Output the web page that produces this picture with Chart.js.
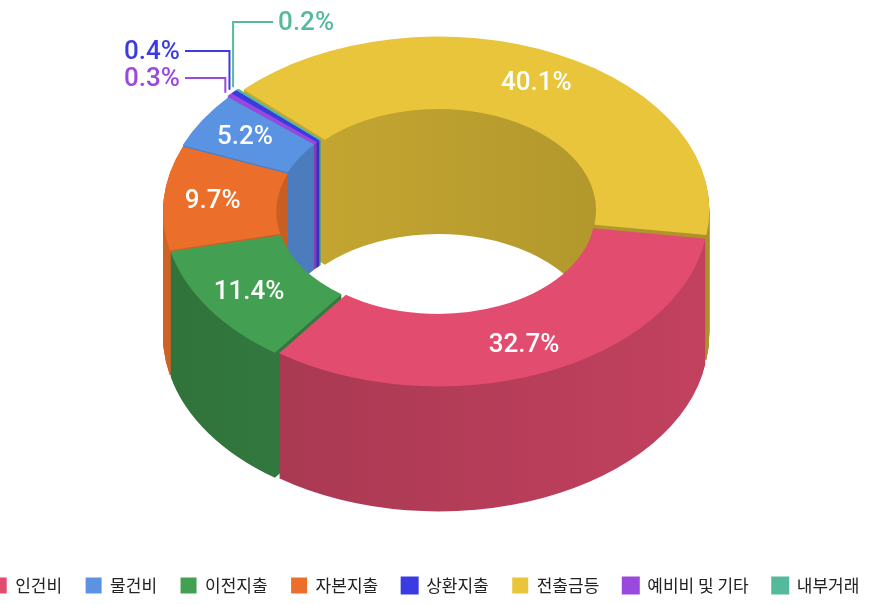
<!DOCTYPE html>
<html>
<head>
<meta charset="utf-8">
<script src="https://cdn.jsdelivr.net/npm/chart.js@4"></script>
<style>
  html, body { margin: 0; background: #fff; }
  #wrap { width: 874px; height: 604px; }
</style>
</head>
<body>
<div id="wrap"><canvas id="budgetCanvas"></canvas></div>
<script>
const categories = ['인건비', '물건비', '이전지출', '자본지출', '상환지출', '전출금등', '예비비 및 기타', '내부거래']
const shares = [32.7, 5.2, 11.4, 9.7, 0.4, 40.1, 0.3, 0.2]
const colors = ['#e24c6e', '#5a93e1', '#43a052', '#eb6f2a', '#3a3be2', '#e8c53a', '#9a48dd', '#55b99b']

// order of the slices round the ring, clockwise from the upper left
const ringOrder = [5, 0, 2, 3, 1, 6, 4, 7]

// thin slices get a label outside with an elbow line
const callouts = {
  4: {y: 51, side: 'left'},
  6: {y: 78, side: 'left'},
  7: {y: 22, side: 'right'},
}

const TILT = 0.64    // squash of the ring
const DEPTH = 125    // thickness in px
const LIFT = 65      // top face sits this far above the chart's centre
const CALLOUT_X = 180
// the legend row is a bit wider than the canvas and spills over both edges
const LEGEND_LEFT = -42
const LEGEND_RIGHT = 892

function shade(hex, f) {
  const n = parseInt(hex.slice(1), 16)
  const r = Math.round(((n >> 16) & 255) * f)
  const g = Math.round(((n >> 8) & 255) * f)
  const b = Math.round((n & 255) * f)
  return `rgb(${r},${g},${b})`
}

const midAngle = (arc) => (arc.startAngle + arc.endAngle) / 2

const ring3d = {
  id: 'ring3d',
  beforeDatasetsDraw(chart) {
    const ctx = chart.ctx
    const arcs = chart.getDatasetMeta(0).data
    const cx = arcs[0].x
    const cy = arcs[0].y
    const R = arcs[0].outerRadius

    // back slices first, front ones last
    const order = arcs.map((a, i) => i).sort((a, b) => Math.sin(midAngle(arcs[a])) - Math.sin(midAngle(arcs[b])))

    order.forEach(i => {
      const arc = arcs[i]
      const base = arc.options.backgroundColor
      const front = Math.sin(midAngle(arc)) > 0
      const grad = ctx.createLinearGradient(cx - R, 0, cx + R, 0)
      grad.addColorStop(0, shade(base, front ? 0.72 : 0.88))
      grad.addColorStop(1, shade(base, front ? 0.86 : 0.74))

      arc.options.backgroundColor = grad
      arc.options.borderColor = grad
      for (let d = DEPTH; d > 0; d--) {
        ctx.save()
        ctx.translate(cx, cy - LIFT + d)
        ctx.scale(1, TILT)
        ctx.translate(-cx, -cy)
        arc.draw(ctx)
        ctx.restore()
      }
      arc.options.backgroundColor = base
      arc.options.borderColor = base

      ctx.save()
      ctx.translate(cx, cy - LIFT)
      ctx.scale(1, TILT)
      ctx.translate(-cx, -cy)
      arc.draw(ctx)
      ctx.restore()
    })
    return false
  }
}

const sliceLabels = {
  id: 'sliceLabels',
  afterDraw(chart) {
    const ctx = chart.ctx
    const arcs = chart.getDatasetMeta(0).data
    ctx.save()
    ctx.textBaseline = 'middle'
    ctx.font = '500 26px Roboto'
    arcs.forEach((arc, i) => {
      const cat = ringOrder[i]
      const text = shares[cat].toFixed(1) + '%'
      const a = midAngle(arc)
      const off = arc.options.offset
      const topY = arc.y - LIFT
      const c = callouts[cat]
      if (c) {
        const r = arc.outerRadius + off
        const ax = arc.x + Math.cos(a) * r
        const ay = topY + Math.sin(a) * r * TILT
        const color = colors[cat]
        ctx.strokeStyle = color
        ctx.lineWidth = 2
        ctx.beginPath()
        ctx.moveTo(ax, ay)
        ctx.lineTo(ax, c.y)
        ctx.lineTo(c.side === 'left' ? CALLOUT_X + 5 : ax + 40, c.y)
        ctx.stroke()
        ctx.fillStyle = color
        ctx.textAlign = c.side === 'left' ? 'right' : 'left'
        ctx.fillText(text, c.side === 'left' ? CALLOUT_X : ax + 45, c.y + 1)
      } else {
        const r = (arc.innerRadius + arc.outerRadius) / 2 + off
        ctx.fillStyle = '#fff'
        ctx.textAlign = 'center'
        ctx.fillText(text, arc.x + Math.cos(a) * r, topY + Math.sin(a) * r * TILT + 1)
      }
    })
    ctx.restore()
  }
}

// let the legend fit all eight items on one row, like the original
const wideLegend = {
  id: 'wideLegend',
  beforeLayout(chart) {
    const lg = chart.legend
    if (!lg || lg.wideFit) return
    const fit = lg.fit
    lg.fit = function () {
      this.maxWidth = LEGEND_RIGHT - LEGEND_LEFT
      fit.call(this)
    }
    lg.wideFit = true
  },
  afterLayout(chart) {
    chart.legend.left = LEGEND_LEFT
    chart.legend.right = LEGEND_RIGHT
  }
}

new Chart(document.getElementById('budgetCanvas'), {
  type: 'doughnut',
  data: {
    labels: ringOrder.map(i => categories[i]),
    datasets: [{
      data: ringOrder.map(i => shares[i]),
      backgroundColor: ringOrder.map(i => colors[i]),
      borderColor: ringOrder.map(i => colors[i]),
      // the thinnest slices get a stroke so they stay visible
      borderWidth: ringOrder.map(i => shares[i] < 1 ? 2 : 0),
      offset: 12,
      hoverOffset: 0,
    }]
  },
  options: {
    responsive: true,
    maintainAspectRatio: false,
    animation: false,
    rotation: -46,
    cutout: '58%',
    layout: {padding: 0},
    plugins: {
      legend: {
        position: 'bottom',
        labels: {
          boxWidth: 16,
          boxHeight: 16,
          padding: 23.5,
          color: '#222',
          font: {family: "'Noto Sans CJK KR', sans-serif", size: 17},
          sort: (a, b) => ringOrder[a.index] - ringOrder[b.index],
        }
      },
      tooltip: {enabled: false},
    }
  },
  plugins: [ring3d, sliceLabels, wideLegend]
})
</script>
</body>
</html>
